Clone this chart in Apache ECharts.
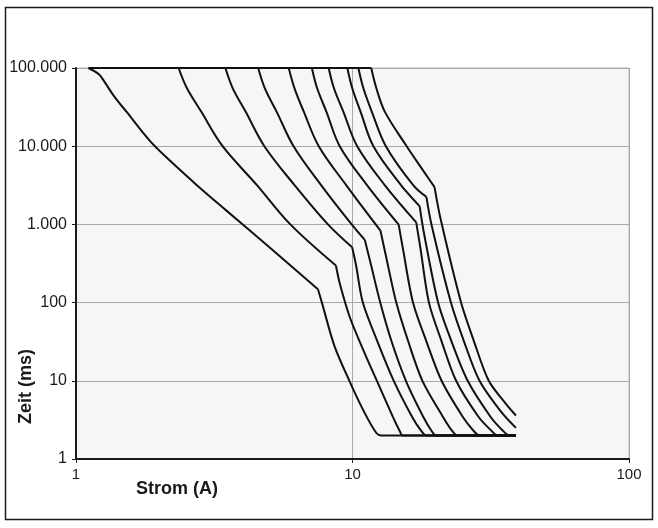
<!DOCTYPE html>
<html>
<head>
<meta charset="utf-8">
<script src="https://cdn.jsdelivr.net/npm/echarts@6/dist/echarts.min.js"></script>
<style>
  html, body { margin: 0; padding: 0; background: #fff; }
  #chart { width: 658px; height: 528px; }
</style>
</head>
<body>
<div id="chart"></div>
<script>
// Auslösekennlinien: [Strom (A), Zeit (ms)]
const kurve1 = [[1.11, 100000], [1.21, 83000], [1.27, 66000], [1.37, 44000], [1.53, 27000], [1.85, 11700], [2.19, 6500], [2.73, 3200], [3.5, 1500], [4.97, 520], [7.5, 148], [7.75, 100], [8.6, 28], [9.78, 9.7], [11.1, 3.8], [12.2, 2.15], [12.7, 2], [39, 2]];
const kurve2 = [[2.35, 100000], [2.52, 55000], [2.84, 27500], [3.39, 10000], [4.52, 3160], [5.96, 1000], [8.71, 298], [9.0, 174], [9.78, 65], [11.08, 22.3], [12.3, 9.7], [14.0, 3.46], [14.8, 2.3], [15.2, 2], [39, 2]];
const kurve3 = [[3.47, 100000], [3.69, 55000], [4.11, 27500], [4.8, 10000], [6.18, 3160], [8.15, 1000], [9.97, 510], [10.3, 300], [10.9, 100], [12.3, 32], [14.1, 10], [16.4, 3.5], [17.7, 2.3], [18.5, 2], [39, 2]];
const kurve4 = [[4.56, 100000], [4.82, 55000], [5.32, 27500], [6.12, 10000], [7.71, 3160], [9.93, 1000], [11.08, 634], [11.6, 330], [12.6, 100], [13.8, 33], [15.6, 10], [18.0, 3.5], [19.3, 2.3], [20.1, 2], [39, 2]];
const kurve5 = [[5.88, 100000], [6.17, 55000], [6.67, 27500], [7.55, 10000], [9.5, 3160], [12.62, 834], [13.2, 400], [14.4, 100], [15.9, 32], [17.9, 10], [21.2, 3.5], [22.9, 2.3], [24.0, 2], [39, 2]];
const kurve6 = [[7.13, 100000], [7.45, 55000], [8.05, 27500], [8.99, 10000], [11.3, 3160], [14.69, 994], [15.2, 500], [16.55, 100], [18.5, 32], [21.0, 10], [25.0, 3.5], [27.4, 2.3], [28.8, 2], [39, 2]];
const kurve7 = [[8.2, 100000], [8.57, 55000], [9.27, 27500], [10.4, 10000], [13.1, 3160], [17.0, 1064], [17.6, 500], [18.9, 100], [21.0, 32], [23.7, 10], [28.5, 3.5], [31.8, 2.3], [33.5, 2], [39, 2]];
const kurve8 = [[9.58, 100000], [9.98, 55000], [10.7, 27500], [11.9, 10000], [15.0, 3160], [17.5, 1700], [18.1, 800], [20.4, 100], [22.8, 32], [26.1, 10], [31.5, 3.5], [35.0, 2.3], [37.0, 2], [39, 2]];
const kurve9 = [[10.5, 100000], [10.95, 55000], [11.75, 27500], [13.2, 10000], [16.6, 3160], [18.5, 2250], [19.3, 1000], [22.7, 100], [25.3, 32], [28.8, 10], [34.5, 4.0], [39, 2.5]];
const kurve10 = [[11.69, 100000], [12.2, 55000], [13.1, 27500], [15.7, 10000], [18.3, 4500], [19.8, 3000], [20.8, 1200], [24.7, 100], [27.5, 32], [31.1, 10], [36.0, 5.0], [39, 3.6]];

const kurven = [kurve1, kurve2, kurve3, kurve4, kurve5, kurve6, kurve7, kurve8, kurve9, kurve10];
// Index des Knickpunkts je Kurve
const knick = [10, 6, 6, 6, 5, 5, 5, 5, 5, 5];
const xTicks = [1, 10, 100];
const yTicks = [1, 10, 100, 1000, 10000, 100000];

function deZahl (v) {
  return String(Math.round(v)).replace(/\B(?=(\d{3})+(?!\d))/g, '.');
}

const linie = { color: '#111', width: 2 };
let serien = [];
kurven.forEach(function (d, i) {
  const k = knick[i];
  serien.push({ type: 'line', data: d.slice(0, k + 1), showSymbol: false, smooth: 0.35, lineStyle: linie, z: 10 });
  serien.push({ type: 'line', data: d.slice(k), showSymbol: false, smooth: 0.3, lineStyle: linie, z: 10 });
});
serien.push({ type: 'line', data: [kurve1[0], [kurve10[0][0], kurve10[0][1]]], showSymbol: false, lineStyle: linie, z: 10 });

const chart = echarts.init(document.getElementById('chart'));
chart.setOption({
  backgroundColor: '#fff',
  animation: false,
  grid: {
    left: 76, right: 29, top: 68, bottom: 69,
    show: true,
    backgroundColor: '#f6f6f6',
    borderColor: '#b8b8b8',
    borderWidth: 1
  },
  graphic: [
    {
      type: 'rect',
      shape: { x: 5.5, y: 7.5, width: 647, height: 512 },
      style: { fill: 'none', stroke: '#1a1a1a', lineWidth: 1.5 },
      z: 100
    },
    {
      type: 'text',
      left: 136, top: 480,
      style: { text: 'Strom (A)', font: 'bold 18px "Liberation Sans", Arial, sans-serif', fill: '#1a1a1a' }
    },
    {
      type: 'text',
      x: 17, y: 424,
      rotation: Math.PI / 2,
      style: { text: 'Zeit (ms)', font: 'bold 18px "Liberation Sans", Arial, sans-serif', fill: '#1a1a1a' }
    }
  ],
  xAxis: {
    type: 'log',
    logBase: 10,
    min: xTicks[0],
    max: xTicks[xTicks.length - 1],
    axisLine: { show: true, onZero: false, lineStyle: { color: '#1a1a1a', width: 2 } },
    axisTick: { show: true, length: 4, lineStyle: { color: '#1a1a1a' } },
    axisLabel: {
      color: '#1a1a1a', fontSize: 15, margin: 8,
      fontFamily: '"Liberation Sans", Arial, sans-serif',
      formatter: function (v) { return deZahl(v); }
    },
    splitLine: { show: true, lineStyle: { color: '#a8a8a8', width: 1 } }
  },
  yAxis: {
    type: 'log',
    logBase: 10,
    min: yTicks[0],
    max: yTicks[yTicks.length - 1],
    axisLine: { show: true, onZero: false, lineStyle: { color: '#1a1a1a', width: 2 } },
    axisTick: { show: true, length: 4, lineStyle: { color: '#1a1a1a' } },
    axisLabel: {
      color: '#1a1a1a', fontSize: 16, margin: 9,
      fontFamily: '"Liberation Sans", Arial, sans-serif',
      formatter: function (v) { return deZahl(v); }
    },
    splitLine: { show: true, lineStyle: { color: '#a8a8a8', width: 1 } }
  },
  series: serien
});
</script>
</body>
</html>
